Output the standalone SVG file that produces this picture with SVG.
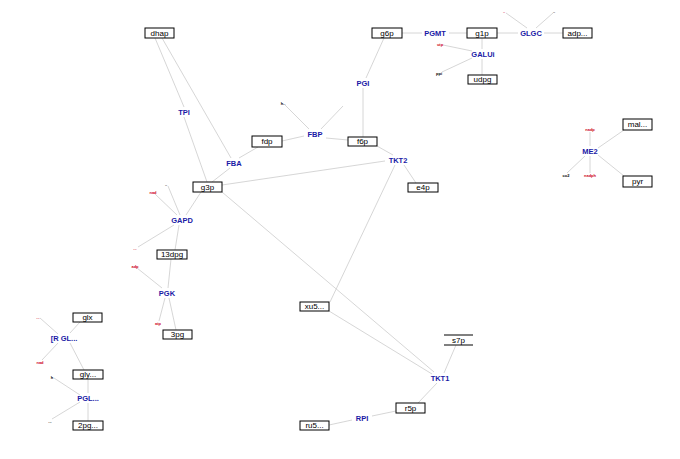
<svg xmlns="http://www.w3.org/2000/svg" width="680" height="459" viewBox="0 0 680 459">
<style>
.e{stroke:#cccccc;stroke-width:0.8;fill:none}
.b{fill:#fff;stroke:#000;stroke-width:1}
.t{font-family:"Liberation Sans",Arial,sans-serif;font-size:8px;fill:#000;text-anchor:middle;dominant-baseline:central}
.r{font-family:"Liberation Sans",Arial,sans-serif;font-size:7.5px;font-weight:bold;fill:#1a1aa6;text-anchor:middle;dominant-baseline:central}
.sr{font-family:"Liberation Sans",Arial,sans-serif;font-size:4px;font-weight:bold;fill:#cc0022;text-anchor:middle;dominant-baseline:central}
.sk{font-family:"Liberation Sans",Arial,sans-serif;font-size:4px;font-weight:bold;fill:#000;text-anchor:middle;dominant-baseline:central}
</style>
<rect width="680" height="459" fill="#fff"/>
<g id="edges">
<line class="e" x1="155" y1="38" x2="184" y2="107"/>
<line class="e" x1="184" y1="117" x2="207" y2="182"/>
<line class="e" x1="162" y1="38" x2="231" y2="158"/>
<line class="e" x1="230" y1="168" x2="212" y2="182"/>
<line class="e" x1="239" y1="158" x2="258" y2="147"/>
<line class="e" x1="282" y1="141" x2="304" y2="136"/>
<line class="e" x1="285" y1="105" x2="309" y2="129"/>
<line class="e" x1="321" y1="129" x2="343" y2="106"/>
<line class="e" x1="326" y1="138" x2="348" y2="140"/>
<line class="e" x1="384" y1="38" x2="366" y2="78"/>
<line class="e" x1="363" y1="88" x2="363" y2="137"/>
<line class="e" x1="402" y1="33" x2="422" y2="33"/>
<line class="e" x1="449" y1="33" x2="467" y2="33"/>
<line class="e" x1="497" y1="33" x2="518" y2="33"/>
<line class="e" x1="544" y1="33" x2="563" y2="33"/>
<line class="e" x1="527" y1="28" x2="506" y2="13"/>
<line class="e" x1="536" y1="28" x2="553" y2="13"/>
<line class="e" x1="482" y1="38" x2="482" y2="49"/>
<line class="e" x1="482" y1="59" x2="482" y2="75"/>
<line class="e" x1="472" y1="51" x2="443" y2="45"/>
<line class="e" x1="472" y1="58" x2="442" y2="72"/>
<line class="e" x1="377" y1="146" x2="393" y2="155"/>
<line class="e" x1="404" y1="165" x2="416" y2="183"/>
<line class="e" x1="385" y1="161" x2="222" y2="185"/>
<line class="e" x1="395" y1="165" x2="330" y2="302"/>
<line class="e" x1="222" y1="192" x2="434" y2="372"/>
<line class="e" x1="329" y1="311" x2="432" y2="374"/>
<line class="e" x1="444" y1="373" x2="456" y2="345"/>
<line class="e" x1="437" y1="383" x2="418" y2="403"/>
<line class="e" x1="396" y1="411" x2="372" y2="416"/>
<line class="e" x1="352" y1="420" x2="329" y2="425"/>
<line class="e" x1="201" y1="192" x2="186" y2="215"/>
<line class="e" x1="177" y1="215" x2="155" y2="194"/>
<line class="e" x1="180" y1="215" x2="168" y2="186"/>
<line class="e" x1="179" y1="225" x2="175" y2="250"/>
<line class="e" x1="174" y1="225" x2="138" y2="247"/>
<line class="e" x1="171" y1="259" x2="168" y2="288"/>
<line class="e" x1="162" y1="288" x2="137" y2="268"/>
<line class="e" x1="165" y1="298" x2="159" y2="321"/>
<line class="e" x1="169" y1="298" x2="176" y2="330"/>
<line class="e" x1="80" y1="322" x2="70" y2="333"/>
<line class="e" x1="58" y1="334" x2="40" y2="318"/>
<line class="e" x1="58" y1="343" x2="42" y2="360"/>
<line class="e" x1="70" y1="343" x2="84" y2="370"/>
<line class="e" x1="88" y1="379" x2="88" y2="393"/>
<line class="e" x1="80" y1="395" x2="54" y2="378"/>
<line class="e" x1="80" y1="402" x2="52" y2="419"/>
<line class="e" x1="88" y1="403" x2="88" y2="421"/>
<line class="e" x1="598" y1="148" x2="624" y2="130"/>
<line class="e" x1="598" y1="155" x2="624" y2="176"/>
<line class="e" x1="590" y1="146" x2="590" y2="132"/>
<line class="e" x1="585" y1="156" x2="567" y2="173"/>
<line class="e" x1="590" y1="156" x2="590" y2="173"/>
</g>
<g id="dhap"><rect class="b" x="145" y="28" width="29" height="10"/><text class="t" x="159.5" y="33">dhap</text></g>
<g id="g3p"><rect class="b" x="193" y="182" width="29" height="10"/><text class="t" x="207.5" y="187">g3p</text></g>
<g id="fdp"><rect class="b" x="252" y="136" width="30" height="11"/><text class="t" x="267" y="141.5">fdp</text></g>
<g id="g6p"><rect class="b" x="372" y="28" width="30" height="10"/><text class="t" x="387" y="33">g6p</text></g>
<g id="g1p"><rect class="b" x="467" y="28" width="30" height="10"/><text class="t" x="482" y="33">g1p</text></g>
<g id="adp"><rect class="b" x="563" y="28" width="29" height="10"/><text class="t" x="577.5" y="33">adp...</text></g>
<g id="udpg"><rect class="b" x="468" y="75" width="29" height="9"/><text class="t" x="482.5" y="79.5">udpg</text></g>
<g id="f6p"><rect class="b" x="348" y="137" width="29" height="9"/><text class="t" x="362.5" y="141.5">f6p</text></g>
<g id="e4p"><rect class="b" x="408" y="183" width="30" height="9"/><text class="t" x="423" y="187.5">e4p</text></g>
<g id="mal"><rect class="b" x="623" y="119" width="29" height="11"/><text class="t" x="637.5" y="124.5">mal...</text></g>
<g id="pyr"><rect class="b" x="623" y="176" width="29" height="11"/><text class="t" x="637.5" y="181.5">pyr</text></g>
<g id="13dpg"><rect class="b" x="157" y="250" width="30" height="9"/><text class="t" x="172" y="254.5">13dpg</text></g>
<g id="3pg"><rect class="b" x="163" y="330" width="29" height="9"/><text class="t" x="177.5" y="334.5">3pg</text></g>
<g id="glx"><rect class="b" x="73" y="313" width="29" height="9"/><text class="t" x="87.5" y="317.5">glx</text></g>
<g id="gly"><rect class="b" x="73" y="370" width="30" height="9"/><text class="t" x="88" y="374.5">gly...</text></g>
<g id="2pg"><rect class="b" x="73" y="421" width="30" height="9"/><text class="t" x="88" y="425.5">2pg...</text></g>
<g id="xu5"><rect class="b" x="300" y="302" width="29" height="9"/><text class="t" x="314.5" y="306.5">xu5...</text></g>
<g id="s7p"><line x1="444" y1="335" x2="473" y2="335" stroke="#000"/><line x1="444" y1="345" x2="473" y2="345" stroke="#000"/><text class="t" x="458.5" y="340">s7p</text></g>
<g id="r5p"><rect class="b" x="396" y="403" width="29" height="10"/><text class="t" x="410.5" y="408">r5p</text></g>
<g id="ru5"><rect class="b" x="300" y="421" width="29" height="9"/><text class="t" x="314.5" y="425.5">ru5...</text></g>
<g id="TPI"><text class="r" x="184" y="112">TPI</text></g>
<g id="FBA"><text class="r" x="234" y="163">FBA</text></g>
<g id="FBP"><text class="r" x="315" y="134">FBP</text><text class="sk" x="283" y="103">h..</text></g>
<g id="PGI"><text class="r" x="363" y="83">PGI</text></g>
<g id="PGMT"><text class="r" x="435" y="33">PGMT</text></g>
<g id="GLGC"><text class="r" x="531" y="33">GLGC</text><text class="sr" x="504" y="11">..</text><text class="sk" x="554" y="11">..</text></g>
<g id="GALUi"><text class="r" x="483" y="54">GALUi</text><text class="sr" x="440" y="44">utp</text><text class="sk" x="439" y="73">ppi</text></g>
<g id="TKT2"><text class="r" x="398" y="160">TKT2</text></g>
<g id="ME2"><text class="r" x="590" y="151">ME2</text><text class="sr" x="590" y="129">nadp</text><text class="sk" x="566" y="175">co2</text><text class="sr" x="590" y="175">nadph</text></g>
<g id="GAPD"><text class="r" x="182" y="220">GAPD</text><text class="sr" x="153" y="192">nad</text><text class="sk" x="166" y="184">..</text><text class="sr" x="135" y="248">...</text></g>
<g id="PGK"><text class="r" x="167" y="293">PGK</text><text class="sr" x="135" y="266">adp</text><text class="sr" x="158" y="323">atp</text></g>
<g id="RGL"><text class="r" x="64" y="338">[R  GL...</text><text class="sr" x="38" y="317">...</text><text class="sr" x="40" y="362">nad</text></g>
<g id="PGL"><text class="r" x="88" y="398">PGL...</text><text class="sk" x="52" y="377">h</text><text class="sk" x="50" y="421">...</text></g>
<g id="TKT1"><text class="r" x="440" y="378">TKT1</text></g>
<g id="RPI"><text class="r" x="362" y="418">RPI</text></g>
</svg>
